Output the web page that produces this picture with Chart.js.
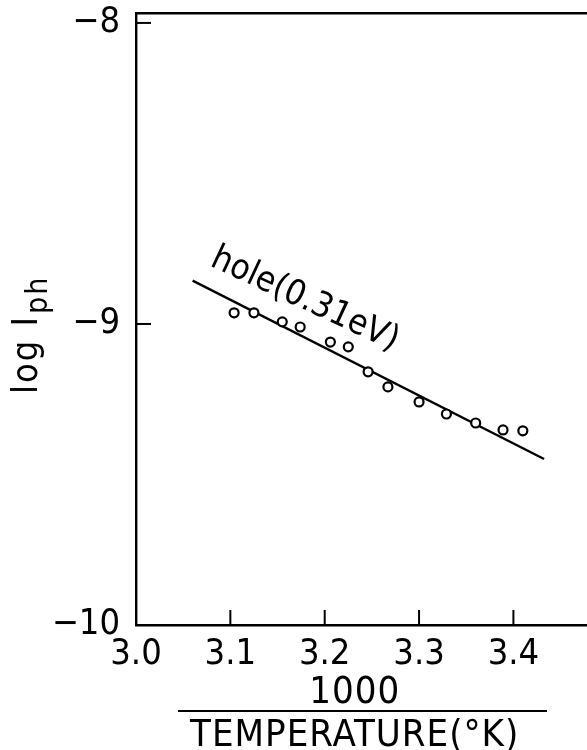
<!DOCTYPE html>
<html>
<head>
<meta charset="utf-8">
<script src="https://cdn.jsdelivr.net/npm/chart.js@4/dist/chart.umd.min.js"></script>
<style>
html,body{margin:0;padding:0;background:#fff;}
#wrap{width:587px;height:750px;position:relative;}
</style>
</head>
<body>
<div id="wrap"><canvas id="c" width="587" height="750"></canvas></div>
<script>
// ---- data ----
const X_TICK_VALUES = [3.0, 3.1, 3.2, 3.3, 3.4];
const X_TICK_LABELS = ["3.0", "3.1", "3.2", "3.3", "3.4"];
const Y_TICK_VALUES = [-10, -9, -8];
const Y_TICK_LABELS = ["\u221210", "\u22129", "\u22128"];

const invTemperature = [3.104, 3.125, 3.155, 3.174, 3.206, 3.225, 3.246, 3.267, 3.300, 3.329, 3.360, 3.389, 3.410];
const logIph        = [-8.963, -8.963, -8.993, -9.010, -9.060, -9.076, -9.159, -9.209, -9.259, -9.299, -9.329, -9.352, -9.355];

const fitX = [3.060, 3.4325];
const fitY = [-8.856, -9.4485];

const annotationText = "hole(0.31eV)";
const annotationAt = [3.179, -8.920];
const yTitleMain = "log I";
const yTitleSub = "ph";
const xTitleNumerator = "1000";
const xTitleDenominator = "TEMPERATURE(\u00B0K)";

// ---- styles ----
const FONT = '"Liberation Sans Narrow", "DejaVu Sans Condensed", "Liberation Sans", sans-serif';
const INK = '#000';

function setSpacing(ctx, px){ if ('letterSpacing' in ctx) ctx.letterSpacing = px + 'px'; }
function noPad(s){ s.paddingTop = 0; s.paddingBottom = 0; s.paddingLeft = 0; s.paddingRight = 0; }

const extras = {
  id: 'extras',
  afterDraw(chart) {
    const ctx = chart.ctx;
    const xs = chart.scales.x, ys = chart.scales.y;
    const a = chart.chartArea;
    ctx.save();
    ctx.strokeStyle = INK;
    ctx.fillStyle = INK;
    ctx.lineWidth = 2;
    // inward tick marks
    X_TICK_VALUES.forEach(v => {
      const px = xs.getPixelForValue(v);
      ctx.beginPath(); ctx.moveTo(px, a.bottom); ctx.lineTo(px, a.bottom - 15); ctx.stroke();
    });
    Y_TICK_VALUES.forEach(v => {
      const py = ys.getPixelForValue(v);
      ctx.beginPath(); ctx.moveTo(a.left, py); ctx.lineTo(a.left + 15, py); ctx.stroke();
    });

    // x-axis title as a fraction
    const cx = a.left + 0.485 * (a.right - a.left);
    ctx.font = '38px ' + FONT;
    ctx.textAlign = 'center';
    ctx.textBaseline = 'alphabetic';
    setSpacing(ctx, 1);
    ctx.fillText(xTitleNumerator, cx, a.bottom + 78);
    ctx.beginPath(); ctx.moveTo(a.left + 42, a.bottom + 86); ctx.lineTo(a.left + 411, a.bottom + 86); ctx.stroke();
    ctx.fillText(xTitleDenominator, cx, a.bottom + 121);

    // y-axis title with subscript
    ctx.save();
    ctx.translate(a.left - 99, ys.getPixelForValue(-9.233));
    ctx.rotate(-Math.PI / 2);
    ctx.textAlign = 'left';
    ctx.font = '36px ' + FONT;
    setSpacing(ctx, 2);
    ctx.fillText(yTitleMain, 0, 0);
    const w = ctx.measureText(yTitleMain).width;
    ctx.font = '30px ' + FONT;
    ctx.fillText(yTitleSub, w + 1, 10);
    ctx.restore();

    // rotated annotation
    ctx.save();
    ctx.translate(xs.getPixelForValue(annotationAt[0]), ys.getPixelForValue(annotationAt[1]));
    ctx.rotate(25 * Math.PI / 180);
    ctx.font = '35px ' + FONT;
    setSpacing(ctx, 0);
    ctx.textAlign = 'center';
    ctx.textBaseline = 'middle';
    ctx.fillText(annotationText, 0, 0);
    ctx.restore();

    ctx.restore();
  }
};

const points = invTemperature.map((x, i) => ({ x, y: logIph[i] }));
const fitLine = fitX.map((x, i) => ({ x, y: fitY[i] }));

new Chart(document.getElementById('c'), {
  type: 'scatter',
  data: {
    datasets: [
      {
        label: 'data',
        data: points,
        pointStyle: 'circle',
        pointRadius: 4.5,
        pointBorderWidth: 2.2,
        pointBorderColor: INK,
        pointBackgroundColor: '#fff',
        showLine: false,
        order: 0
      },
      {
        label: 'fit',
        data: fitLine,
        showLine: true,
        borderColor: INK,
        borderWidth: 2.4,
        pointRadius: 0,
        fill: false,
        order: 1
      }
    ]
  },
  options: {
    responsive: false,
    devicePixelRatio: 1,
    animation: false,
    layout: { padding: 0, autoPadding: false },
    plugins: { legend: { display: false }, tooltip: { enabled: false }, title: { display: false } },
    scales: {
      x: {
        type: 'linear', position: 'bottom',
        min: 3.0, max: 3.478,
        afterBuildTicks: s => { s.ticks = X_TICK_VALUES.map(v => ({ value: v })); },
        afterFit: s => { s.height = 125; noPad(s); },
        ticks: {
          callback: (v, i) => X_TICK_LABELS[i],
          font: { family: FONT, size: 36 },
          color: INK, padding: 8, maxRotation: 0, autoSkip: false
        },
        grid: { display: true, drawOnChartArea: false, drawTicks: false },
        border: { display: true, color: INK, width: 2.4 }
      },
      xTop: {
        type: 'linear', position: 'top',
        min: 3.0, max: 3.478,
        afterFit: s => { s.height = 13; noPad(s); },
        ticks: { display: false },
        grid: { display: true, drawOnChartArea: false, drawTicks: false },
        border: { display: true, color: INK, width: 2.4 }
      },
      y: {
        type: 'linear', position: 'left',
        min: -10, max: -7.967,
        afterBuildTicks: s => { s.ticks = Y_TICK_VALUES.map(v => ({ value: v })); },
        afterFit: s => { s.width = 136; noPad(s); },
        ticks: {
          callback: (v, i) => Y_TICK_LABELS[i],
          font: { family: FONT, size: 36 },
          color: INK, padding: 16, autoSkip: false
        },
        grid: { display: true, drawOnChartArea: false, drawTicks: false },
        border: { display: true, color: INK, width: 2.4 }
      }
    }
  },
  plugins: [extras]
});
</script>
</body>
</html>
